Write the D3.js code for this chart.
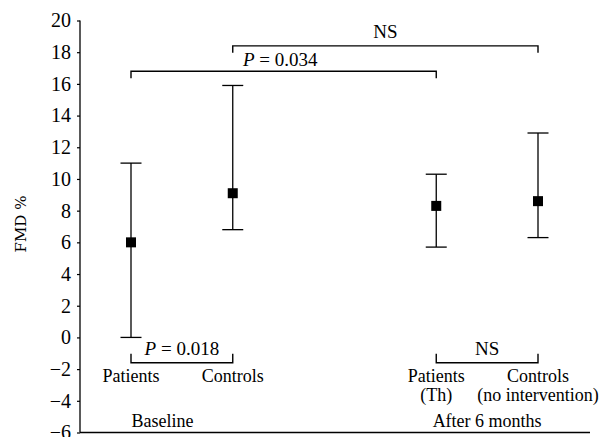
<!DOCTYPE html>
<html>
<head>
<meta charset="utf-8">
<script src="https://cdn.jsdelivr.net/npm/d3@7"></script>
<style>
  body { margin: 0; background: #fff; }
  svg text { fill: #000; }
</style>
</head>
<body>
<div id="chart"></div>
<script>
// data
let groups = ["Patients", "Controls", "Patients (Th)", "Controls (no intervention)"];
let slots = [0, 1, 3, 4];
let means = [6.0, 9.1, 8.3, 8.6];
let lower = [0.0, 6.8, 5.7, 6.3];
let upper = [11.0, 15.9, 10.3, 12.9];
let yTicks = [-6, -4, -2, 0, 2, 4, 6, 8, 10, 12, 14, 16, 18, 20];

// comparisons: [from group, to group, level, label, side]
let comparisons = [
    [1, 3, 18.4, "NS", "top"],
    [0, 2, 16.8, "P = 0.034", "top"],
    [0, 1, -1.6, "P = 0.018", "bottom"],
    [2, 3, -1.6, "NS", "bottom"]
];

let width = 603, height = 437;
let serif = "Liberation Serif";

let svg = d3.select("#chart")
    .append("svg")
    .attr("width", width)
    .attr("height", height)
    .attr("font-family", serif);

let y = d3.scaleLinear().domain([-6, 20]).range([432.5, 20.5]);
let x = d3.scaleLinear().domain([0, 4]).range([131, 538]);

// y axis
let yAxis = svg.append("g")
    .attr("transform", "translate(80,0)")
    .call(d3.axisLeft(y).tickValues(yTicks).tickSize(3).tickPadding(6)
        .tickFormat(d => d < 0 ? "\u2212" + Math.abs(d) : d));
yAxis.attr("font-family", serif).attr("font-size", 20);
yAxis.select(".domain").attr("stroke-width", 1.3).attr("d", "M0," + y(20) + "V" + y(-6));
yAxis.selectAll(".tick line").attr("stroke-width", 1.2);

// bottom line
svg.append("line")
    .attr("x1", 80).attr("x2", 590)
    .attr("y1", y(-6)).attr("y2", y(-6))
    .attr("stroke", "#000").attr("stroke-width", 1.5);

svg.append("text")
    .attr("transform", "translate(26,224) rotate(-90)")
    .attr("text-anchor", "middle")
    .attr("font-family", "DejaVu Serif")
    .attr("font-size", 15)
    .text("FMD %");

// error bars
let bars = svg.append("g").attr("id", "bars");
groups.forEach(function (g, i) {
    let cx = x(slots[i]);
    bars.append("line")
        .attr("x1", cx).attr("x2", cx)
        .attr("y1", y(lower[i])).attr("y2", y(upper[i]))
        .attr("stroke", "#000").attr("stroke-width", 1.3);
    [lower[i], upper[i]].forEach(function (v) {
        bars.append("line")
            .attr("x1", cx - 10.5).attr("x2", cx + 10.5)
            .attr("y1", y(v)).attr("y2", y(v))
            .attr("stroke", "#000").attr("stroke-width", 1.3);
    });
    bars.append("rect")
        .attr("x", cx - 5).attr("y", y(means[i]) - 5)
        .attr("width", 10).attr("height", 10)
        .attr("fill", "#000");
});

// brackets
let br = svg.append("g").attr("id", "brackets");
comparisons.forEach(function (c) {
    let x1 = x(slots[c[0]]), x2 = x(slots[c[1]]);
    let yy = y(c[2]);
    let dir = c[4] == "top" ? 7 : -9;
    br.append("path")
        .attr("d", "M" + x1 + "," + (yy + dir) + "V" + yy + "H" + x2 + "V" + (yy + dir))
        .attr("fill", "none").attr("stroke", "#000").attr("stroke-width", 1.4);
    let t = br.append("text").attr("font-size", 19);
    if (c[4] == "top" && c[3] != "NS") {
        t.attr("x", x1 + 112).attr("y", yy - 5).attr("text-anchor", "start");
    } else {
        t.attr("x", (x1 + x2) / 2).attr("y", yy - 8).attr("text-anchor", "middle");
    }
    if (c[3].startsWith("P")) {
        t.append("tspan").style("font-style", "italic").text("P");
        t.append("tspan").text(c[3].slice(1));
    } else {
        t.text(c[3]);
    }
});

// category labels
let labelRows = [
    ["Patients", "Controls", "Patients", "Controls"],
    ["", "", "(Th)", "(no intervention)"]
];
labelRows.forEach(function (row, r) {
    svg.append("g").selectAll("text")
        .data(row)
        .enter()
        .append("text")
        .attr("x", (d, i) => x(slots[i]))
        .attr("y", 382 + r * 19)
        .attr("text-anchor", "middle")
        .attr("font-size", 18)
        .text(d => d);
});

let periods = ["Baseline", "After 6 months"];
svg.append("g").selectAll("text")
    .data(periods)
    .enter()
    .append("text")
    .attr("x", (d, i) => i == 0 ? x(0.31) : x(3.5))
    .attr("y", 427)
    .attr("text-anchor", "middle")
    .attr("font-size", 18)
    .text(d => d);
</script>
</body>
</html>
